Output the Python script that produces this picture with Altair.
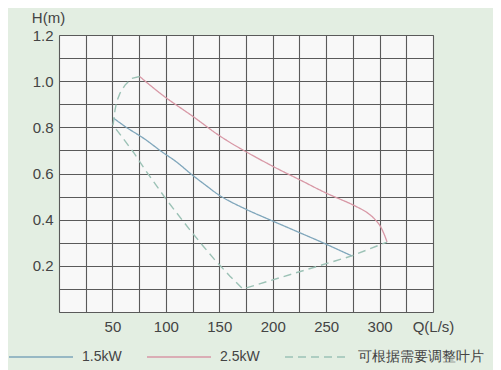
import altair as alt
import pandas as pd

# 1.5kW curve
q_15 = [51, 63, 80, 96, 110, 123, 137, 152, 175, 197, 222, 247, 274]
h_15 = [0.84, 0.80, 0.75, 0.695, 0.65, 0.60, 0.55, 0.50, 0.445, 0.40, 0.35, 0.30, 0.243]

# 2.5kW curve
q_25 = [75.5, 88, 100.8, 125.7, 149.1, 169.4, 200.6, 225.6, 250.6, 275.5, 290, 299.5, 304, 307]
h_25 = [1.02, 0.972, 0.926, 0.846, 0.767, 0.709, 0.63, 0.572, 0.514, 0.463, 0.425, 0.38, 0.34, 0.303]

# adjustable-blade envelope (dashed)
q_adj = [75.5, 68, 61.8, 57, 54, 52.4, 51.5, 50.5, 60, 70, 80, 90, 100, 110, 122.6, 135, 146, 160, 172, 274, 307]
h_adj = [1.02, 1.012, 0.983, 0.947, 0.911, 0.875, 0.839, 0.81, 0.752, 0.69, 0.62, 0.555, 0.49, 0.43, 0.355, 0.285, 0.225, 0.155, 0.10, 0.243, 0.303]

series_names = ["1.5kW", "2.5kW", "可根据需要调整叶片"]
series_colors = ["#7fa6bb", "#d898a6", "#9cc2b6"]

x_ticks = [0, 25, 50, 75, 100, 125, 150, 175, 200, 225, 250, 275, 300, 325, 350]
y_ticks = [0, 0.1, 0.2, 0.3, 0.4, 0.5, 0.6, 0.7, 0.8, 0.9, 1.0, 1.1, 1.2]

rows = []
for name, qs, hs in [(series_names[0], q_15, h_15), (series_names[1], q_25, h_25), (series_names[2], q_adj, h_adj)]:
    for i, (q, h) in enumerate(zip(qs, hs)):
        rows.append({"series": name, "Q": q, "H": h, "order": i})
df = pd.DataFrame(rows)

legend_opts = dict(title=None, orient="none", direction="horizontal",
                   legendX=-51, legendY=289, symbolType="stroke",
                   symbolSize=4096, symbolStrokeWidth=1.5,
                   labelFontSize=14, labelColor="#444444",
                   labelFont="Liberation Sans",
                   labelOffset=8, columnPadding=22, padding=0)

x_enc = alt.X("Q:Q", scale=alt.Scale(domain=[0, 350], nice=False, zero=False),
              axis=alt.Axis(values=x_ticks, title=None, ticks=False, domain=False,
                            grid=True, gridColor="#5a5a5a", gridOpacity=1, gridWidth=1.1,
                            labelFontSize=15, labelColor="#444444", labelPadding=7,
                            labelFont="Liberation Sans", labelOverlap=False, labelFlush=False,
                            labelExpr="datum.value % 50 == 0 && datum.value > 0 ? (datum.value == 350 ? 'Q(L/s)' : datum.label) : ''"))
y_enc = alt.Y("H:Q", scale=alt.Scale(domain=[0, 1.2], nice=False),
              axis=alt.Axis(values=y_ticks, ticks=False, domain=False,
                            grid=True, gridColor="#5a5a5a", gridOpacity=1, gridWidth=1.1,
                            labelFontSize=15, labelColor="#444444", labelPadding=6,
                            labelFont="Liberation Sans", labelOverlap=False, labelFlush=False,
                            labelExpr="round(datum.value * 10) % 2 == 0 && datum.value > 0 ? format(datum.value, '.1f') : ''",
                            title="H(m)", titleAngle=0, titleAlign="center", titleBaseline="middle",
                            titleX=-11, titleY=-18, titleFontSize=15, titleFontWeight="normal",
                            titleColor="#444444", titleFont="Liberation Sans"))
color_enc = alt.Color("series:N", scale=alt.Scale(domain=series_names, range=series_colors),
                      legend=alt.Legend(**legend_opts))
dash_enc = alt.StrokeDash("series:N", scale=alt.Scale(domain=series_names, range=[[1, 0], [1, 0], [8, 5]]),
                          legend=alt.Legend(**legend_opts))

base = alt.Chart(df).encode(x=x_enc, y=y_enc, color=color_enc, strokeDash=dash_enc, order="order:Q")

solid = base.transform_filter(
    alt.FieldOneOfPredicate(field="series", oneOf=series_names[:2])
).mark_line(strokeWidth=1.3, interpolate="catmull-rom")

dashed = base.transform_filter(
    alt.FieldEqualPredicate(field="series", equal=series_names[2])
).mark_line(strokeWidth=1.4)

chart = alt.layer(solid, dashed).properties(
    width=374, height=277,
    autosize=alt.AutoSizeParams(type="none"),
    padding={"left": 51, "top": 27, "right": 60, "bottom": 58},
    background="#e3eee2",
).configure_view(
    fill="#f8f8f8", stroke="#8a8a8a", strokeWidth=1
)

chart.save("out.html", embed_options={"renderer": "svg", "actions": False})
